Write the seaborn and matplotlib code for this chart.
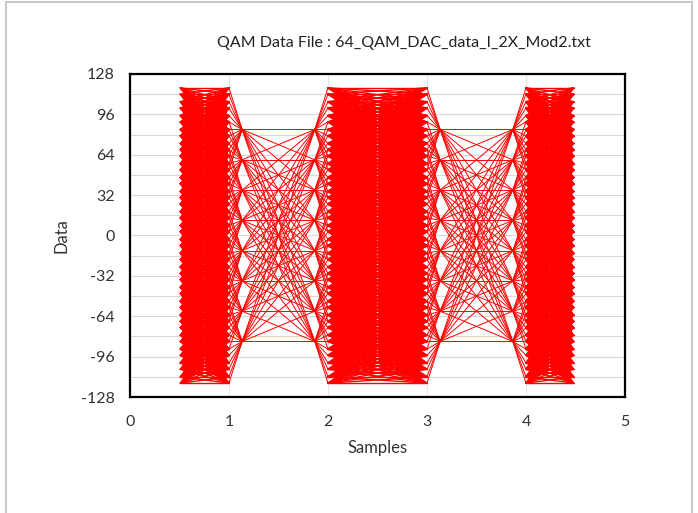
import numpy as np
import pandas as pd
import matplotlib
matplotlib.use('Agg')
import matplotlib.pyplot as plt
import seaborn as sns
from matplotlib.patches import Rectangle

# 64-QAM symbol levels seen where the traces converge
SYMBOLS = [-84, -60, -36, -12, 12, 36, 60, 84]
# discrete sample levels at the tips of the saw-teeth (x = 1, 2, 3, 4)
TEETH = [-117, -112, -106, -101, -95, -90, -84, -79, -73, -68, -63, -57, -52, -46, -41, -35, -30, -25, -19, -14, -8, -3,
         3, 8, 14, 19, 25, 30, 35, 41, 46, 52, 57, 63, 68, 73, 79, 84, 90, 95, 101, 106, 112, 117]
# sample positions on the x axis
X_EDGE_L, X_T1, X_S1, X_S2, X_T2 = 0.51, 1.0, 1.133, 1.867, 2.0
X_T3, X_S3, X_S4, X_T4, X_EDGE_R = 3.0, 3.133, 3.867, 4.0, 4.48
FAN = 55      # spread of the dense blocks
REACH = 34    # how far a sample sits from its symbol

TITLE = 'QAM Data File : 64_QAM_DAC_data_I_2X_Mod2.txt'


def build_segments():
    rows = []
    seg = 0

    def add(kind, x0, y0, x1, y1):
        nonlocal seg
        rows.append((seg, kind, x0, y0))
        rows.append((seg, kind, x1, y1))
        seg += 1

    def dense(x0, x1):
        for a in TEETH:
            for b in TEETH:
                if abs(a - b) <= FAN:
                    add('dense', x0, b, x1, a)

    def to_symbol(xt, xs):
        for v in TEETH:
            for s in SYMBOLS:
                if abs(v - s) <= REACH:
                    add('eye', xt, v, xs, s)

    def cross(x0, x1):
        for s0 in SYMBOLS:
            for s1 in SYMBOLS:
                add('eye', x0, s0, x1, s1)

    dense(X_EDGE_L, X_T1)
    to_symbol(X_T1, X_S1)
    cross(X_S1, X_S2)
    to_symbol(X_T2, X_S2)
    dense(X_T2, X_T3)
    to_symbol(X_T3, X_S3)
    cross(X_S3, X_S4)
    to_symbol(X_T4, X_S4)
    dense(X_T4, X_EDGE_R)
    return pd.DataFrame(rows, columns=['seg', 'kind', 'x', 'y'])


df = build_segments()

sns.set_style('white')
plt.rcParams['font.family'] = ['Lato', 'DejaVu Sans']
plt.rcParams['axes.unicode_minus'] = False

fig = plt.figure(figsize=(6.98, 5.13), dpi=100)
ax = fig.add_axes([0.1862, 0.2261, 0.7092, 0.6297])

sns.lineplot(data=df[df['kind'] == 'dense'], x='x', y='y', units='seg', estimator=None, sort=False,
             color='#FF0000', linewidth=1.0, ax=ax)
sns.lineplot(data=df[df['kind'] == 'eye'], x='x', y='y', units='seg', estimator=None, sort=False,
             color='#FF0000', linewidth=0.7, ax=ax)

ax.set_xlim(0, 5)
ax.set_ylim(-128, 128)
ax.set_xticks(range(0, 6))
ax.set_yticks(range(-128, 129, 32))
ax.set_yticks(range(-128, 129, 16), minor=True)
ax.grid(True, which='both', axis='y', color='#D9D9D9', linewidth=0.8)
ax.grid(True, which='major', axis='x', color='#E6E6E6', linewidth=0.8)
ax.set_axisbelow(True)
ax.tick_params(axis='both', which='major', direction='out', length=5, width=0.8,
               color='#7F7F7F', labelsize=11.5, labelcolor='#333333')
ax.tick_params(axis='x', which='major', pad=8)
ax.tick_params(axis='y', which='major', pad=6)
ax.tick_params(axis='y', which='minor', length=0)
for sp in ax.spines.values():
    sp.set_color('#000000')
    sp.set_linewidth(1.6)

ax.set_xlabel('Samples', fontsize=12, color='#333333', labelpad=8)
ax.set_ylabel('Data', fontsize=12, color='#333333', labelpad=8)
fig.text(404 / 698, 1 - 43 / 513, TITLE, fontsize=11.5, color='#222222', ha='center', va='center')

fig.patches.append(Rectangle((0.009, -0.02), 0.982, 1.016, transform=fig.transFigure,
                             fill=False, edgecolor='#BFBFBF', linewidth=1.2))

fig.savefig('out.png', dpi=100)
